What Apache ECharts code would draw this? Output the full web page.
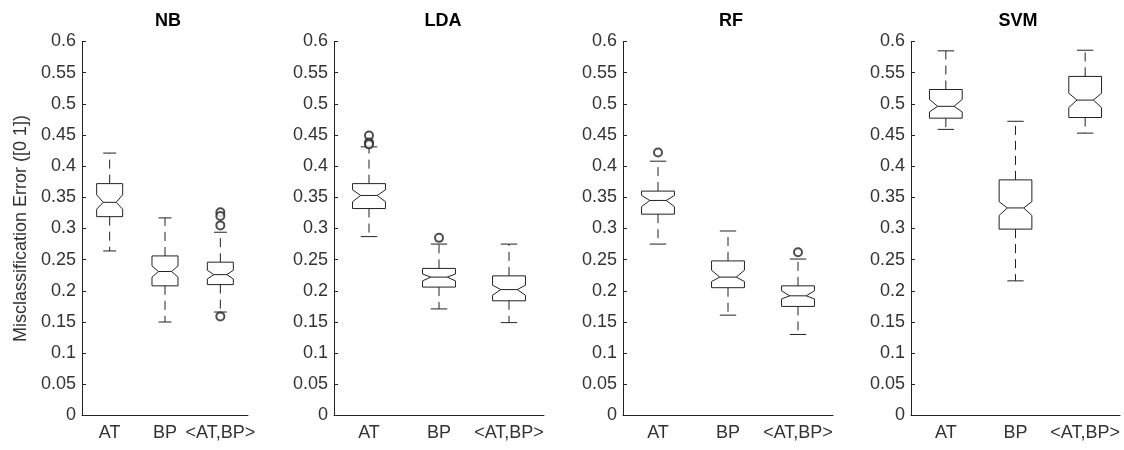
<!DOCTYPE html>
<html>
<head>
<meta charset="utf-8">
<script src="https://cdn.jsdelivr.net/npm/echarts@6/dist/echarts.min.js"></script>
<style>
  html, body { margin: 0; padding: 0; background: #fff; }
  #chart { width: 1124px; height: 450px; }
</style>
</head>
<body>
<div id="chart"></div>
<script>
  // categories on every panel
  const categories = ['AT', 'BP', '<AT,BP>']
  const panelTitles = ['NB', 'LDA', 'RF', 'SVM']
  const yTicks = [0, 0.05, 0.1, 0.15, 0.2, 0.25, 0.3, 0.35, 0.4, 0.45, 0.5, 0.55, 0.6]

  // one box per category: [whiskerLow, q1, notchLow, median, notchHigh, q3, whiskerHigh]
  const nbBoxes = [
    [0.264, 0.319, 0.331, 0.342, 0.354, 0.372, 0.421],
    [0.150, 0.208, 0.222, 0.231, 0.240, 0.256, 0.317],
    [0.166, 0.210, 0.219, 0.226, 0.233, 0.246, 0.294]
  ]
  const ldaBoxes = [
    [0.287, 0.332, 0.343, 0.353, 0.362, 0.372, 0.431],
    [0.171, 0.206, 0.216, 0.222, 0.227, 0.236, 0.275],
    [0.149, 0.184, 0.193, 0.202, 0.209, 0.224, 0.275]
  ]
  const rfBoxes = [
    [0.275, 0.323, 0.335, 0.345, 0.353, 0.360, 0.408],
    [0.161, 0.205, 0.215, 0.222, 0.233, 0.248, 0.296],
    [0.130, 0.175, 0.187, 0.192, 0.200, 0.208, 0.251]
  ]
  const svmBoxes = [
    [0.459, 0.477, 0.487, 0.496, 0.507, 0.523, 0.585],
    [0.216, 0.299, 0.321, 0.333, 0.343, 0.378, 0.472],
    [0.453, 0.478, 0.494, 0.506, 0.517, 0.544, 0.586]
  ]

  // outliers: [categoryIndex, value]
  const nbOutliers = [[2, 0.326], [2, 0.320], [2, 0.305], [2, 0.159]]
  const ldaOutliers = [[0, 0.449], [0, 0.438], [0, 0.435], [1, 0.285]]
  const rfOutliers = [[0, 0.422], [2, 0.262]]
  const svmOutliers = []

  const allBoxes = [nbBoxes, ldaBoxes, rfBoxes, svmBoxes]
  const allOutliers = [nbOutliers, ldaOutliers, rfOutliers, svmOutliers]

  const lineColor = '#222'
  const textColor = '#333'
  const fontFamily = 'Liberation Sans, Arial, sans-serif'

  // plot areas (pixels) and title centres
  const grids = [
    { left: 82, width: 166, top: 41.5, height: 374 },
    { left: 334, width: 210, top: 41.5, height: 374 },
    { left: 623, width: 210, top: 41.5, height: 374 },
    { left: 911, width: 209, top: 41.5, height: 374 }
  ]
  const titleX = [163, 438, 726, 1013]

  // notched box like matlab boxplot('notch','on')
  function renderBox(params, api) {
    const idx = api.value(0)
    const v = []
    for (let i = 1; i <= 7; i++) v.push(api.value(i))
    const band = api.size([1, 0])[0]
    const w = band * 0.47
    const cx = api.coord([idx, v[3]])[0]
    const y = v.map(val => api.coord([idx, val])[1])
    const L = cx - w / 2
    const R = cx + w / 2
    const inset = w * 0.25
    const cap = w * 0.25
    const style = { stroke: lineColor, fill: null, lineWidth: 1 }
    const dashed = { stroke: lineColor, fill: null, lineWidth: 1, lineDash: [9, 6] }
    return {
      type: 'group',
      children: [
        {
          type: 'polygon',
          shape: {
            points: [
              [L, y[5]], [R, y[5]], [R, y[4]], [R - inset, y[3]], [R, y[2]],
              [R, y[1]], [L, y[1]], [L, y[2]], [L + inset, y[3]], [L, y[4]]
            ]
          },
          style: style
        },
        { type: 'line', shape: { x1: L + inset, y1: y[3], x2: R - inset, y2: y[3] }, style: style },
        { type: 'line', shape: { x1: cx, y1: y[5], x2: cx, y2: y[6] }, style: dashed },
        { type: 'line', shape: { x1: cx, y1: y[1], x2: cx, y2: y[0] }, style: dashed },
        { type: 'line', shape: { x1: cx - cap, y1: y[6], x2: cx + cap, y2: y[6] }, style: style },
        { type: 'line', shape: { x1: cx - cap, y1: y[0], x2: cx + cap, y2: y[0] }, style: style }
      ]
    }
  }

  const chart = echarts.init(document.getElementById('chart'))

  const option = {
    backgroundColor: '#fff',
    animation: false,
    title: [],
    grid: [],
    xAxis: [],
    yAxis: [],
    series: []
  }

  panelTitles.forEach((name, p) => {
    option.title.push({
      text: name,
      left: titleX[p],
      top: 7,
      textAlign: 'center',
      textStyle: { fontFamily: fontFamily, fontSize: 18, fontWeight: 'bold', color: '#000' }
    })
    option.grid.push(grids[p])
    option.xAxis.push({
      type: 'category',
      gridIndex: p,
      data: categories,
      boundaryGap: true,
      axisLine: { lineStyle: { color: lineColor, width: 1 } },
      axisTick: { inside: true, length: 4, alignWithLabel: true, lineStyle: { color: lineColor } },
      axisLabel: { margin: 9, fontFamily: fontFamily, fontSize: 18, color: textColor, interval: 0 },
      splitLine: { show: false }
    })
    option.yAxis.push({
      type: 'value',
      gridIndex: p,
      min: yTicks[0],
      max: yTicks[yTicks.length - 1],
      interval: 0.05,
      name: p === 0 ? 'Misclassification Error ([0 1])' : '',
      nameLocation: 'middle',
      nameGap: 52,
      nameTextStyle: { fontFamily: fontFamily, fontSize: 18, color: textColor },
      axisLine: { show: true, lineStyle: { color: lineColor, width: 1 } },
      axisTick: { show: true, inside: true, length: 4, lineStyle: { color: lineColor } },
      axisLabel: { margin: 6, fontFamily: fontFamily, fontSize: 18, color: textColor },
      splitLine: { show: false }
    })
    option.series.push({
      type: 'custom',
      xAxisIndex: p,
      yAxisIndex: p,
      renderItem: renderBox,
      encode: { x: 0, y: [1, 2, 3, 4, 5, 6, 7] },
      data: allBoxes[p].map((b, i) => [i].concat(b))
    })
    option.series.push({
      type: 'scatter',
      xAxisIndex: p,
      yAxisIndex: p,
      symbol: 'emptyCircle',
      symbolSize: 8,
      itemStyle: { color: lineColor, borderWidth: 1 },
      data: allOutliers[p]
    })
  })

  chart.setOption(option)
</script>
</body>
</html>
